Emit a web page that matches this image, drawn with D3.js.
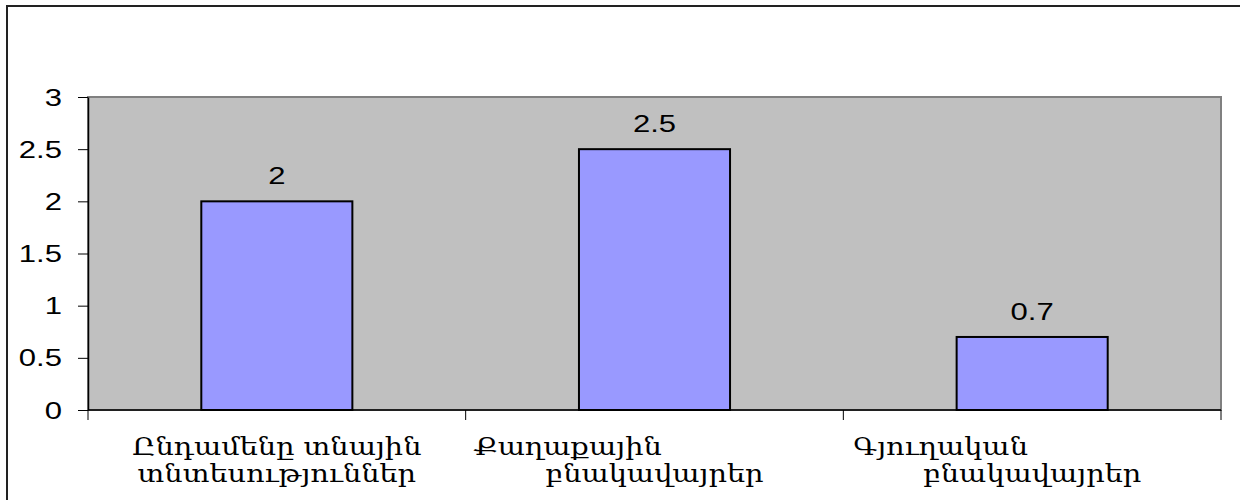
<!DOCTYPE html>
<html>
<head>
<meta charset="utf-8">
<script src="https://cdn.jsdelivr.net/npm/d3@7"></script>
<title>Bar chart</title>
<style>
  body { margin: 0; background: #fff; }
</style>
</head>
<body>
<svg width="1240" height="500" id="mainsvg"></svg>
<script>
  // data
  const categories = ['Ընդամենը տնային տնտեսություններ', 'Քաղաքային բնակավայրեր', 'Գյուղական բնակավայրեր'];
  // how the category labels wrap (first line keeps its trailing spaces, like the original)
  const labelLines = [
    ['Ընդամենը տնային', 'տնտեսություններ'],
    ['Քաղաքային' + '\u00a0'.repeat(19), 'բնակավայրեր'],
    ['Գյուղական' + '\u00a0'.repeat(20), 'բնակավայրեր']
  ];
  const values = [2, 2.5, 0.7];
  const yTicks = [0, 0.5, 1, 1.5, 2, 2.5, 3];

  let svg = d3.select('#mainsvg');
  const width = +svg.attr('width');
  const height = +svg.attr('height');
  const margin = {left: 88, right: 19, top: 97, bottom: 90};

  // outer chart frame (right/bottom edges fall outside the picture)
  svg.append('rect')
    .attr('x', 7).attr('y', 6)
    .attr('width', width + 20).attr('height', height + 20)
    .attr('fill', '#fff').attr('stroke', '#222').attr('stroke-width', 2);

  const x = d3.scaleBand().domain(categories)
    .range([margin.left, width - margin.right]).padding(0);
  const y = d3.scaleLinear().domain([0, 3])
    .range([height - margin.bottom, margin.top]);

  // plot area
  svg.append('rect')
    .attr('x', margin.left).attr('y', margin.top)
    .attr('width', width - margin.left - margin.right)
    .attr('height', height - margin.top - margin.bottom)
    .attr('fill', '#c0c0c0').attr('stroke', '#808080').attr('stroke-width', 2);

  // bars
  const barW = x.bandwidth() * 0.4;
  svg.selectAll('.bar').data(values).join('rect')
    .attr('class', 'bar')
    .attr('x', (d, i) => x(categories[i]) + (x.bandwidth() - barW) / 2)
    .attr('y', d => y(d))
    .attr('width', barW)
    .attr('height', d => y(0) - y(d))
    .attr('fill', '#9999ff').attr('stroke', '#000').attr('stroke-width', 2);

  // value labels
  const numFont = 'Liberation Sans, Arial, sans-serif';
  const stretch = 1.35;
  svg.selectAll('.vlabel').data(values).join('text')
    .attr('class', 'vlabel')
    .attr('transform', (d, i) => `translate(${x(categories[i]) + x.bandwidth() / 2},${y(d) - 17}) scale(${stretch},1)`)
    .attr('text-anchor', 'middle')
    .style('font-family', numFont).style('font-size', '23px')
    .text(d => d);

  // y axis
  const yAxis = svg.append('g')
    .attr('transform', `translate(${margin.left},0)`)
    .call(d3.axisLeft(y).tickValues(yTicks).tickSize(10).tickSizeOuter(0).tickFormat(d => d));
  yAxis.select('.domain').attr('stroke', '#000').attr('stroke-width', 1.5);
  yAxis.selectAll('.tick line').attr('stroke', '#000');
  yAxis.selectAll('.tick text')
    .attr('x', null).attr('dy', null)
    .attr('text-anchor', 'end')
    .attr('transform', `translate(-26,8) scale(${stretch},1)`)
    .style('font-family', numFont).style('font-size', '23px').attr('fill', '#000');

  // x axis: ticks at category boundaries
  const xAxisG = svg.append('g').attr('transform', `translate(0,${y(0)})`);
  xAxisG.append('line')
    .attr('x1', margin.left).attr('x2', width - margin.right)
    .attr('stroke', '#000').attr('stroke-width', 1.5);
  const bounds = categories.map(c => x(c)).concat([x(categories[categories.length - 1]) + x.bandwidth()]);
  xAxisG.selectAll('.xtick').data(bounds).join('line')
    .attr('class', 'xtick')
    .attr('x1', d => d).attr('x2', d => d)
    .attr('y1', 0).attr('y2', 10)
    .attr('stroke', '#000');

  // category labels
  const catLabels = svg.selectAll('.clabel').data(labelLines).join('text')
    .attr('class', 'clabel')
    .attr('transform', (d, i) => `translate(${x(categories[i]) + x.bandwidth() / 2},${y(0) + 45}) scale(1.2,1)`)
    .attr('text-anchor', 'middle')
    .style('font-family', 'DejaVu Serif, serif').style('font-size', '24px');
  catLabels.selectAll('tspan').data(d => d).join('tspan')
    .attr('x', 0).attr('dy', (d, j) => j === 0 ? 0 : 27)
    .text(d => d);
</script>
</body>
</html>
